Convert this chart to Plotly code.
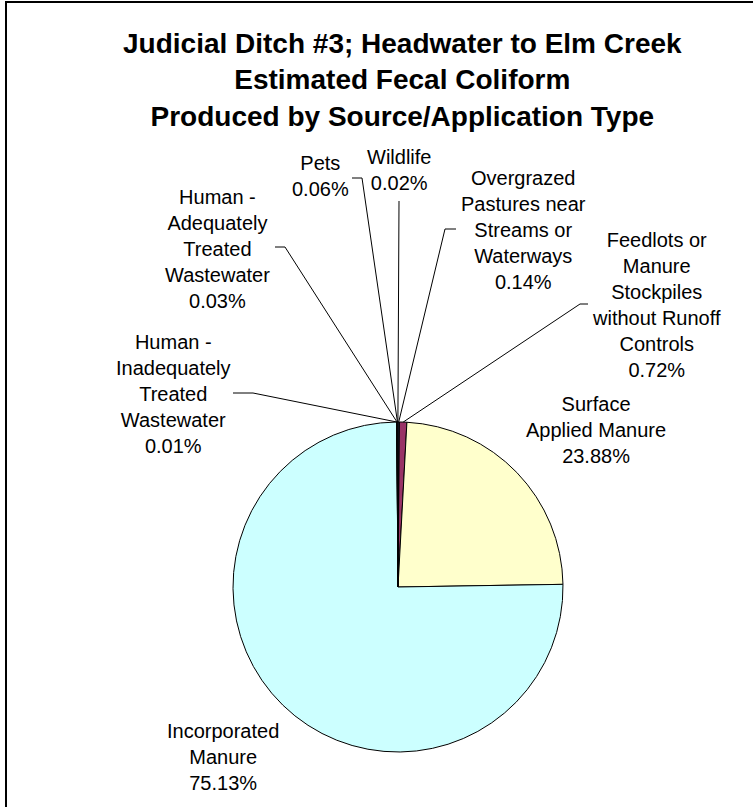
import math
import plotly.graph_objects as go

# ---------------- data ----------------
categories = [
    "Overgrazed Pastures near Streams or Waterways",
    "Feedlots or Manure Stockpiles without Runoff Controls",
    "Surface Applied Manure",
    "Incorporated Manure",
    "Human - Inadequately Treated Wastewater",
    "Human - Adequately Treated Wastewater",
    "Pets",
    "Wildlife",
]
percent_values = [0.14, 0.72, 23.88, 75.13, 0.01, 0.03, 0.06, 0.02]
label_lines = [
    ["Overgrazed", "Pastures near", "Streams or", "Waterways"],
    ["Feedlots or", "Manure", "Stockpiles", "without Runoff", "Controls"],
    ["Surface", "Applied Manure"],
    ["Incorporated", "Manure"],
    ["Human -", "Inadequately", "Treated", "Wastewater"],
    ["Human -", "Adequately", "Treated", "Wastewater"],
    ["Pets"],
    ["Wildlife"],
]
slice_colors = ["#9999FF", "#993366", "#FFFFCC", "#CCFFFF", "#660066", "#FF8080", "#0066CC", "#CCCCFF"]
title_lines = [
    "Judicial Ditch #3; Headwater to Elm Creek",
    "Estimated Fecal Coliform",
    "Produced by Source/Application Type",
]

# ---------------- layout (pixels) ----------------
W, H = 753, 807
CX, CY, R = 398, 587, 165
FONT = "Liberation Sans, Arial, sans-serif"

# label block centres and leader tick (outer x, inner x, y); None => no leader
label_pos = [
    (523, 230), (656, 305), (596, 430), (223, 757),
    (173, 394), (217, 249), (320, 176), (399, 170),
]
leader_ticks = [
    (456, 445, 229), (588, 580, 304), None, None,
    (233, 253, 393), (275, 285, 247), (352, 362, 178), (399, 399, 201),
]


def px(x):
    return x / W


def py(y):
    return 1 - y / H


fig = go.Figure()
fig.add_trace(go.Pie(
    labels=categories,
    values=percent_values,
    sort=False,
    direction="clockwise",
    rotation=0,
    marker=dict(colors=slice_colors, line=dict(color="black", width=1)),
    textinfo="none",
    hoverinfo="label+percent",
    showlegend=False,
    domain=dict(x=[px(CX - R), px(CX + R)], y=[py(CY + R), py(CY - R)]),
))

annotations = []
shapes = []

# title
annotations.append(dict(
    text="<br>".join(title_lines), xref="paper", yref="paper",
    x=px(402), y=py(80), xanchor="center", yanchor="middle",
    showarrow=False, align="center",
    font=dict(family=FONT, size=28, color="black", weight="bold"),
))

total = sum(percent_values)
cum = 0.0
for i, v in enumerate(percent_values):
    mid = (cum + v / 2) / total
    cum += v
    theta = 2 * math.pi * mid
    ex = CX + R * math.sin(theta)
    ey = CY - R * math.cos(theta)
    text = "<br>".join(label_lines[i] + [f"{v:.2f}%"])
    lx, ly = label_pos[i]
    annotations.append(dict(
        text=text, xref="paper", yref="paper", x=px(lx), y=py(ly),
        xanchor="center", yanchor="middle", showarrow=False, align="center",
        font=dict(family=FONT, size=20, color="black"),
    ))
    t = leader_ticks[i]
    if t is not None:
        x0, x1, yt = t
        path = f"M {px(x0)},{py(yt)} L {px(x1)},{py(yt)} L {px(ex)},{py(ey)}"
        shapes.append(dict(type="path", xref="paper", yref="paper", path=path,
                           line=dict(color="black", width=1)))

# chart frame
shapes.append(dict(type="rect", xref="paper", yref="paper",
                   x0=px(6), x1=px(W + 10), y0=py(H + 10), y1=py(2),
                   line=dict(color="black", width=2), fillcolor="rgba(0,0,0,0)"))

fig.update_layout(
    width=W, height=H, autosize=False,
    margin=dict(l=0, r=0, t=0, b=0),
    paper_bgcolor="white", plot_bgcolor="white",
    annotations=annotations, shapes=shapes,
)

fig.write_html("out.html", config={"displayModeBar": False},
               post_script="document.body.style.margin='0';")
